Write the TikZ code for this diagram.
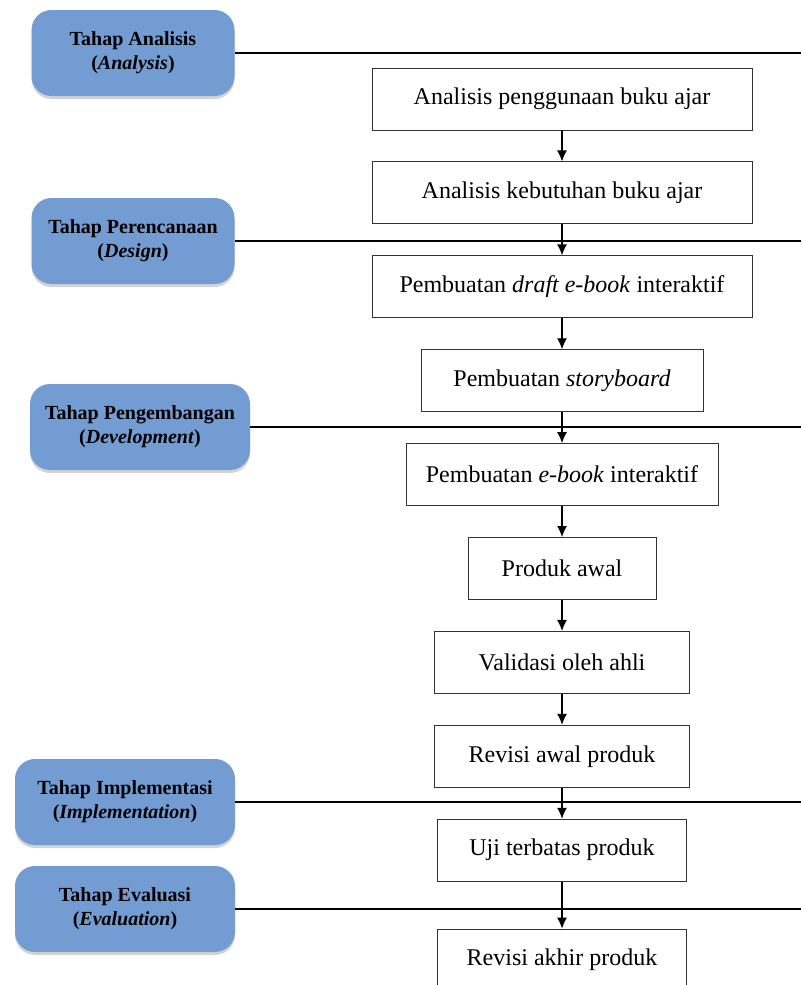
\documentclass[tikz,border=0pt]{standalone}
\usepackage{fontspec}
\setmainfont{Liberation Serif}
\usetikzlibrary{positioning,arrows.meta,shadows}
\definecolor{biru}{RGB}{114,156,210}
\begin{document}
\begin{tikzpicture}[x=1pt, y=-1pt,
  node distance=31pt,
  langkah/.style={draw=black!80, line width=0.9pt, minimum height=62pt, inner sep=0pt,
    font=\fontsize{24}{29}\selectfont},
  tahap/.style={fill=biru, rounded corners=20pt, minimum height=86pt, inner sep=0pt, align=center,
    font=\bfseries\fontsize{20}{24}\selectfont,
    drop shadow={shadow xshift=0pt, shadow yshift=-3pt, opacity=0.35}},
  panah/.style={-{Latex[length=11pt,width=10pt]}, line width=1.3pt},
  garis/.style={line width=1.3pt}
]
\useasboundingbox (0,0) rectangle (801,985);
\coordinate (tepi) at (801,0);
% alur utama
\node[langkah, minimum width=380pt] (l1) at (562,99) {Analisis penggunaan buku ajar};
\node[langkah, minimum width=380pt, below=of l1] (l2) {Analisis kebutuhan buku ajar};
\node[langkah, minimum width=380pt, below=of l2] (l3) {Pembuatan \textit{draft e-book} interaktif};
\node[langkah, minimum width=282pt, below=of l3] (l4) {Pembuatan \textit{storyboard}};
\node[langkah, minimum width=312pt, below=of l4] (l5) {Pembuatan \textit{e-book} interaktif};
\node[langkah, minimum width=188pt, below=of l5] (l6) {Produk awal};
\node[langkah, minimum width=255pt, below=of l6] (l7) {Validasi oleh ahli};
\node[langkah, minimum width=255pt, below=of l7] (l8) {Revisi awal produk};
\node[langkah, minimum width=249pt, below=of l8] (l9) {Uji terbatas produk};
\node[langkah, minimum width=249pt, below=47pt of l9] (l10) {Revisi akhir produk};
\foreach \a/\b in {l1/l2,l2/l3,l3/l4,l4/l5,l5/l6,l6/l7,l7/l8,l8/l9,l9/l10}
  \draw[panah] (\a) -- (\b);
% tahap ADDIE
\node[tahap, minimum width=203pt] (t1) at (133,53) {Tahap Analisis\\(\textit{Analysis})};
\node[tahap, minimum width=203pt] (t2) at (133,241) {Tahap Perencanaan\\(\textit{Design})};
\node[tahap, minimum width=220pt] (t3) at (140,427) {Tahap Pengembangan\\(\textit{Development})};
\node[tahap, minimum width=220pt] (t4) at (125,802) {Tahap Implementasi\\(\textit{Implementation})};
\node[tahap, minimum width=220pt] (t5) at (125,909) {Tahap Evaluasi\\(\textit{Evaluation})};
\foreach \t in {t1,t2,t3,t4,t5}
  \draw[garis] (\t.east) -- (\t.east -| tepi);
\end{tikzpicture}
\end{document}
